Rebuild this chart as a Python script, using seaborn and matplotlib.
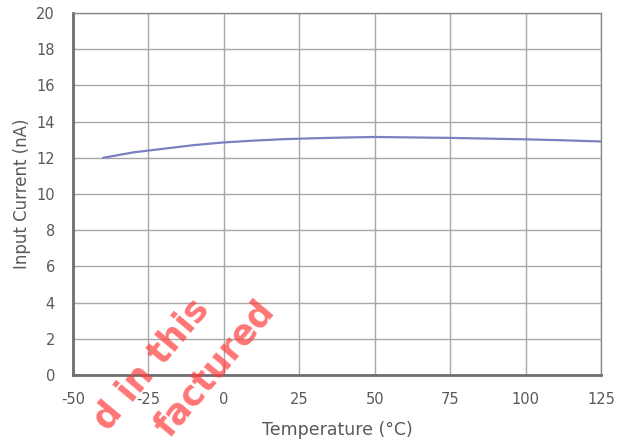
import matplotlib
matplotlib.use("Agg")
import matplotlib.pyplot as plt
import pandas as pd
import seaborn as sns

# values
temperature = [-40, -30, -20, -10, 0, 10, 20, 30, 40, 50, 60, 75, 90, 100, 112, 125]
input_current = [12.0, 12.3, 12.5, 12.7, 12.85, 12.95, 13.03, 13.08, 13.12, 13.15,
                 13.13, 13.1, 13.05, 13.02, 12.97, 12.9]

x_ticks = [-50, -25, 0, 25, 50, 75, 100, 125]
y_ticks = [0, 2, 4, 6, 8, 10, 12, 14, 16, 18, 20]

df = pd.DataFrame({"temp": temperature, "current": input_current})

sns.set_theme(style="white")
plt.rcParams["font.family"] = ["DejaVu Sans"]
plt.rcParams["axes.unicode_minus"] = False

text_color = "#595959"

fig = plt.figure(figsize=(6.26, 4.45), dpi=100)
ax = fig.add_axes([0.1166, 0.1573, 0.8435, 0.8135])

sns.lineplot(data=df, x="temp", y="current", ax=ax, color="#7b80c0", linewidth=1.6)

ax.set_xlim(-50, 125)
ax.set_ylim(0, 20)
ax.set_xticks(x_ticks)
ax.set_yticks(y_ticks)
ax.grid(True, color="#a8a8a8", linewidth=1.0)
ax.tick_params(axis="x", length=0, labelsize=10.5, colors=text_color, pad=12)
ax.tick_params(axis="y", length=0, labelsize=10.5, colors=text_color, pad=13)

for side in ["top", "right"]:
    ax.spines[side].set_color("#8a8a8a")
    ax.spines[side].set_linewidth(1.0)
for side in ["left", "bottom"]:
    ax.spines[side].set_color("#6e6e6e")
    ax.spines[side].set_linewidth(2.0)

ax.set_xlabel("Temperature (°C)", fontsize=12.5, color=text_color, labelpad=10)
ax.set_ylabel("Input Current (nA)", fontsize=12, color=text_color, labelpad=4)

# red watermark fragments visible in the reference
wm = dict(color="#ff3b3b", alpha=0.7, fontsize=25, fontweight="bold", rotation=50,
          rotation_mode="anchor", ha="right", va="baseline")
fig.text(0.336, 0.305, "d in this", **wm)
fig.text(0.440, 0.300, "factured", **wm)

fig.savefig("out.png", dpi=100)
